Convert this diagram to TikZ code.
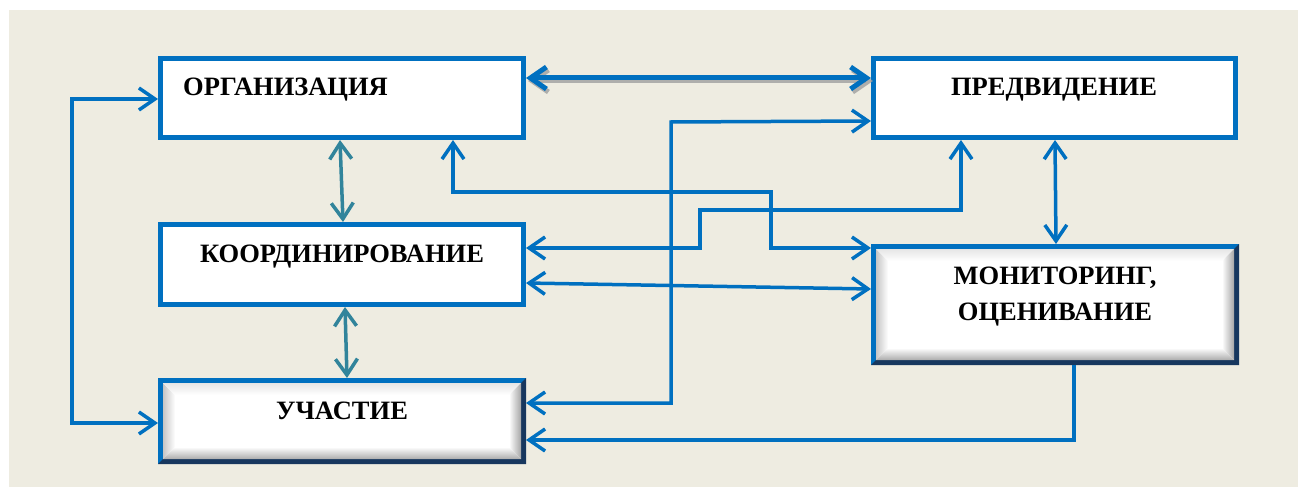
\documentclass[tikz,border=0pt]{standalone}
\usepackage{fontspec}
\setmainfont{Liberation Serif}
\usetikzlibrary{arrows.meta,calc}
\definecolor{myblue}{HTML}{0070C0}
\definecolor{navyb}{HTML}{17375E}
\definecolor{tealc}{HTML}{31849B}
\definecolor{beige}{HTML}{EEECE1}
\newcommand\bevelbox[1]{%
 \fill[myblue] (#1.north west) rectangle (#1.south east);
 \fill[navyb] (#1.north east) -- (#1.south east) -- (#1.south west) -- ($(#1.south west)+(5,-5)$) -- ($(#1.south east)+(-5,-5)$) -- ($(#1.north east)+(-5,5)$) -- cycle;
 \fill[white] ($(#1.north west)+(5,5)$) rectangle ($(#1.south east)+(-5,-5)$);
 \coordinate (bnw) at ($(#1.north west)+(5,5)$);
 \coordinate (bne) at ($(#1.north east)+(-5,5)$);
 \coordinate (bse) at ($(#1.south east)+(-5,-5)$);
 \coordinate (bsw) at ($(#1.south west)+(5,-5)$);
 \shade[left color=gray!45, right color=white] (bnw) -- (bsw) -- ($(bsw)+(12,-12)$) -- ($(bnw)+(12,12)$) -- cycle;
 \shade[top color=gray!20, bottom color=white] (bnw) -- (bne) -- ($(bne)+(-12,12)$) -- ($(bnw)+(12,12)$) -- cycle;
 \shade[left color=white, right color=gray!70] (bne) -- (bse) -- ($(bse)+(-12,-12)$) -- ($(bne)+(-12,12)$) -- cycle;
 \shade[top color=white, bottom color=gray!65] (bsw) -- (bse) -- ($(bse)+(-12,-12)$) -- ($(bsw)+(12,-12)$) -- cycle;
}
\begin{document}
\begin{tikzpicture}[x=1pt,y=-1pt,
  >={Straight Barb[length=16pt,width=22pt]},
  plainbox/.style={draw=myblue, line width=5pt, fill=white, inner sep=0pt},
  bevelnode/.style={draw=none, inner sep=0pt, outer sep=0pt},
  lbl/.style={font=\bfseries\fontsize{26.5}{32}\selectfont, inner sep=0pt},
  conn/.style={draw=myblue, line width=3.5pt},
  tconn/.style={draw=tealc, line width=3.5pt}]
\useasboundingbox (0,0) rectangle (1308,489);
\fill[white] (0,0) rectangle (1308,489);
\fill[beige] (9,10) rectangle (1298,487);

% boxes
\node[plainbox, minimum width=363pt, minimum height=79pt] (org) at (342,98) {};
\node[plainbox, minimum width=362pt, minimum height=79pt] (pred) at (1054.5,98) {};
\node[plainbox, minimum width=363pt, minimum height=80pt] (koord) at (342,264.5) {};
\node[bevelnode, minimum width=368pt, minimum height=121pt] (mon) at (1055,304.5) {};
\node[bevelnode, minimum width=368pt, minimum height=86pt] (uch) at (342,421) {};
\bevelbox{mon}
\bevelbox{uch}

% labels
\node[lbl, anchor=base west] (orgt) at (183,96) {ОРГАНИЗАЦИЯ};
\node[lbl, anchor=base] (predt) at (1054,96) {ПРЕДВИДЕНИЕ};
\node[lbl, anchor=base] (koordt) at (342,262) {КООРДИНИРОВАНИЕ};
\node[lbl, anchor=base] (mont1) at (1055,284) {МОНИТОРИНГ,};
\node[lbl, anchor=base] (mont2) at (1055,320) {ОЦЕНИВАНИЕ};
\node[lbl, anchor=base] (ucht) at (342,419) {УЧАСТИЕ};

% connectors
\draw[draw=gray!75, line width=5pt, opacity=0.8, <->] ([shift={(2,3)}]org.east |- 0,78) -- ([shift={(2,3)}]pred.west |- 0,78);
\draw[conn, line width=5pt, <->] (org.east |- 0,78) -- (pred.west |- 0,78);

\draw[conn, <->] (org.west |- 0,99) -- (72,99) -- (72,423) -- (uch.west |- 0,423);

\draw[tconn, <->] (org.south -| 340,0) -- (koord.north -| 343,0);
\draw[tconn, <->] (koord.south -| 345,0) -- (uch.north -| 347,0);

\draw[conn, <->] (org.south -| 453,0) -- (453,192) -- (771,192) -- (771,248) -- (mon.west |- 0,248);
\draw[conn, <->] (pred.south -| 961,0) -- (961,210) -- (700,210) -- (700,248) -- (koord.east |- 0,248);
\draw[conn, <->] (koord.east |- 0,283) -- (mon.west |- 0,289);
\draw[conn, <->] (uch.east |- 0,403) -- (671,403) -- (671,122) -- (pred.west |- 0,121);
\draw[conn, ->] (mon.south -| 1074,0) -- (1074,440) -- (uch.east |- 0,440);
\draw[conn, <->] (pred.south -| 1055,0) -- (mon.north -| 1056,0);
\end{tikzpicture}
\end{document}
